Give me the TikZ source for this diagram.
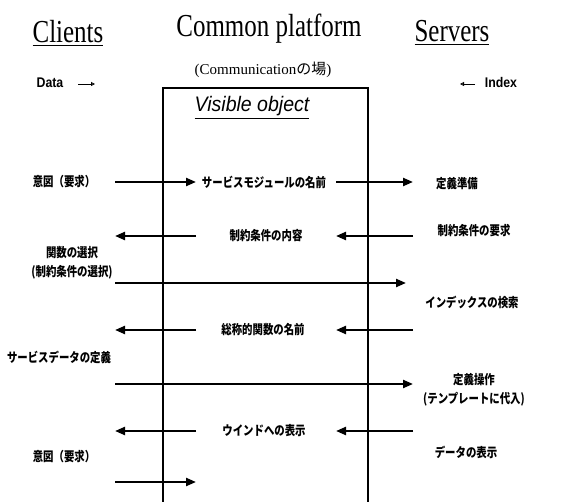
\documentclass[tikz,border=0pt]{standalone}
\usepackage{fontspec}
\setmainfont{Liberation Serif}
\newfontfamily\jpfont{Noto Sans CJK JP}
\newfontfamily\labfont{Liberation Sans}
\usetikzlibrary{arrows.meta}

\begin{document}
\begin{tikzpicture}[
        x=1pt, y=-1pt,
        arr/.style={-{Triangle[length=10pt, width=8pt]}, line width=2.2pt},
        tinyarr/.style={-{Triangle[open, length=4pt, width=4pt]}, line width=0.9pt},
        heading/.style={font=\fontsize{32}{36}\selectfont, xscale=0.78, inner sep=0pt, anchor=base},
        msg/.style={font=\jpfont\bfseries\fontsize{13}{19}\selectfont, xscale=0.8, align=center, inner sep=1pt},
        tag/.style={font=\labfont\bfseries\fontsize{14}{16}\selectfont, xscale=0.88, inner sep=0pt, anchor=base},
    ]
    \useasboundingbox (0,0) rectangle (578,502);

    %% ---- Headings ----
    \node[heading] (clients) at (68,43) {\underline{Clients}};
    \node[heading] (platform) at (269,37) {Common platform};
    \node[heading] (servers) at (452,42) {\underline{Servers}};
    \node[anchor=base, inner sep=0pt, font=\fontsize{15}{17}\selectfont] (place) at (263,75)
        {(Communication{\jpfont の場})};

    % Data / Index flow markers
    \node[tag] (data) at (50,88) {Data};
    \node[tag] (index) at (501,88) {Index};
    \coordinate (da) at (78,84);  \coordinate (db) at (95,84);
    \coordinate (ia) at (475,84); \coordinate (ib) at (460,84);
    \draw[tinyarr] (da) -- (db);
    \draw[tinyarr] (ia) -- (ib);

    %% ---- Platform box (open at the bottom) ----
    \draw[line width=2pt] (163,502) -- (163,88) -- (368,88) -- (368,502);
    \node[anchor=base, inner sep=0pt, xscale=0.93, font=\labfont\itshape\fontsize{21}{23}\selectfont] (visible) at (252,112)
        {\underline{Visible object}};

    %% ---- Messages ----
    \node[msg] (intentA) at (64,182) {意図（要求）};
    \node[msg] (svcname) at (264,182) {サービスモジュールの名前};
    \node[msg] (prep)    at (457,184) {定義準備};

    \node[msg] (cond)    at (266,236) {制約条件の内容};
    \node[msg] (condreq) at (474,231) {制約条件の要求};

    \node[msg] (fsel)    at (72,263) {関数の選択\\(制約条件の選択)};
    \node[msg] (isearch) at (472,302) {インデックスの検索};

    \node[msg] (generic) at (263,330) {総称的関数の名前};
    \node[msg] (sdef)    at (59,357) {サービスデータの定義};

    \node[msg] (defop)   at (474,390) {定義操作\\(テンプレートに代入)};

    \node[msg] (window)  at (264,431) {ウインドへの表示};
    \node[msg] (ddisp)   at (466,452) {データの表示};
    \node[msg] (intentB) at (64,457) {意図（要求）};

    %% ---- Arrow end points, one row each ----
    \foreach \r/\y in {1/182, 2/236, 3/283, 4/330, 5/384, 6/431, 7/482} {
        \coordinate (L\r) at (115,\y);
        \coordinate (M\r) at (196,\y);
        \coordinate (N\r) at (336,\y);
        \coordinate (R\r) at (413,\y);
    }

    \draw[arr] (L1) -- (M1);
    \draw[arr] (N1) -- (R1);
    \draw[arr] (M2) -- (L2);
    \draw[arr] (R2) -- (N2);
    \draw[arr] (L3) -- ([xshift=-7pt]R3);
    \draw[arr] (M4) -- (L4);
    \draw[arr] (R4) -- (N4);
    \draw[arr] (L5) -- (R5);
    \draw[arr] (M6) -- (L6);
    \draw[arr] (R6) -- (N6);
    \draw[arr] (L7) -- (M7);

\end{tikzpicture}
\end{document}
